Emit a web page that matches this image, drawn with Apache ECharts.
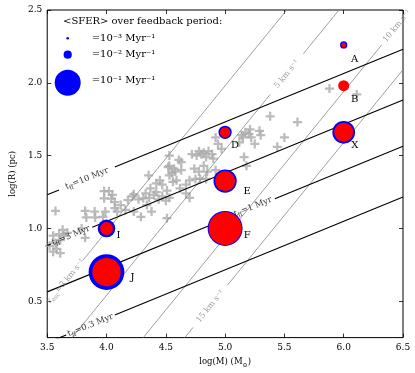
<!DOCTYPE html>
<html>
<head>
<meta charset="utf-8">
<script src="https://cdn.jsdelivr.net/npm/echarts@6/dist/echarts.min.js"></script>
<style>
html, body { margin: 0; padding: 0; background: #fff; }
#main { width: 415px; height: 373px; }
</style>
</head>
<body>
<div id="main"></div>
<script>
// clusters (log M, log R) and SFER values
var clusterNames = ['A', 'B', 'X', 'D', 'E', 'F', 'I', 'J']
var clusterLogM = [6.0, 6.0, 6.0, 5.0, 5.0, 5.0, 4.0, 4.0]
var clusterLogR = [2.26, 1.98, 1.66, 1.66, 1.325, 1.0, 1.0, 0.70]
// blue: <SFER> over feedback period, red: inner marker
var sferFeedback = [0.0079, 0.012, 0.076, 0.026, 0.080, 0.181, 0.046, 0.189]
var sferInner = [0.0033, 0.018, 0.053, 0.0157, 0.059, 0.161, 0.024, 0.119]
var legendSfer = [0.001, 0.01, 0.1]
var legendTexts = ['=10⁻³ Myr⁻¹', '=10⁻² Myr⁻¹', '=10⁻¹ Myr⁻¹']

// grey crosses
var cloudPoints = [
  [3.52, 0.88], [3.55, 0.84], [3.58, 0.86], [3.61, 0.83], [3.57, 0.90], [3.61, 0.92], [3.64, 0.95],
  [3.60, 0.96], [3.63, 0.99], [3.55, 0.95], [3.67, 0.97], [3.57, 1.12], [3.79, 1.00], [3.82, 0.935],
  [3.82, 1.12], [3.83, 1.075], [3.90, 1.116], [3.905, 1.075], [3.99, 1.116], [3.97, 1.08], [3.98, 1.256],
  [4.02, 1.256], [3.98, 1.207], [4.05, 1.23], [4.04, 1.205], [4.09, 1.116], [4.16, 1.127], [4.07, 1.18],
  [4.07, 1.14], [4.12, 1.16], [4.18, 1.195], [4.22, 1.22], [4.23, 1.235], [4.23, 1.116], [4.29, 1.08],
  [4.31, 1.207], [4.34, 1.16], [4.38, 1.116], [4.27, 1.20], [4.33, 1.24], [4.36, 1.21], [4.40, 1.23],
  [4.37, 1.275], [4.355, 1.365], [4.42, 1.25], [4.42, 1.31], [4.45, 1.33], [4.47, 1.30], [4.51, 1.26],
  [4.53, 1.21], [4.51, 1.07], [4.47, 1.22], [4.50, 1.19], [4.44, 1.20], [4.56, 1.32], [4.59, 1.33],
  [4.62, 1.275], [4.67, 1.24], [4.70, 1.21], [4.67, 1.30], [4.70, 1.33], [4.75, 1.34], [4.79, 1.34],
  [4.84, 1.34], [4.53, 1.365], [4.55, 1.38], [4.58, 1.39], [4.63, 1.40], [4.57, 1.41], [4.53, 1.43],
  [4.52, 1.42], [4.63, 1.456], [4.61, 1.47], [4.53, 1.50], [4.74, 1.41], [4.78, 1.39], [4.82, 1.43],
  [4.85, 1.39], [4.92, 1.40], [4.72, 1.51], [4.76, 1.50], [4.78, 1.53], [4.80, 1.51], [4.82, 1.52],
  [4.84, 1.49], [4.86, 1.53], [4.89, 1.51], [4.90, 1.48], [4.97, 1.546], [4.92, 1.625], [4.94, 1.58],
  [5.14, 1.64], [5.17, 1.66], [5.20, 1.65], [5.16, 1.49], [5.18, 1.43], [5.25, 1.58], [5.21, 1.68],
  [5.29, 1.67], [5.30, 1.64], [5.15, 1.625], [5.12, 1.59], [5.22, 1.625], [5.44, 1.56], [5.50, 1.625],
  [5.38, 1.77], [5.61, 1.73], [5.88, 1.96], [6.11, 1.92]
]

// free-fall time lines (black), segments broken where the label sits
var tffSegments = [
  [[3.5, 1.231], [3.6, 1.264]], [[4.07, 1.421], [6.5, 2.231]],
  [[3.5, 0.882], [3.53, 0.892]], [[3.88, 1.008], [6.5, 1.882]],
  [[3.5, 0.564], [5.06, 1.084]], [[5.42, 1.204], [6.5, 1.564]],
  [[3.5, 0.215], [3.66, 0.268]], [[4.07, 0.405], [6.5, 1.215]]
]
var tffLabelPos = [[3.835, 1.342], [3.70, 0.95], [5.235, 1.148], [3.865, 0.335]]
var tffLabelText = ['=10 Myr', '=3 Myr', '=1 Myr', '=0.3 Myr']

// velocity lines (grey)
var velSegments = [
  [[3.80, 0.78], [5.52, 2.50]],
  [[3.71, 0.25], [5.38, 1.92]], [[5.66, 2.20], [5.96, 2.50]],
  [[4.31, 0.25], [6.32, 2.26]],
  [[4.66, 0.25], [4.73, 0.32]], [[5.02, 0.61], [6.5, 2.09]]
]
var velLabelPos = [[3.655, 0.635], [5.52, 2.06], [6.45, 2.39], [4.875, 0.465]]
var velLabelText = ['{t|v}{s|esc}{t|=3 km s⁻¹}', '{t|5 km s⁻¹}', '{t|10 km s⁻¹}', '{t|15 km s⁻¹}']

var FONT = 'DejaVu Serif'

function sferToDiameter(s) {
  return 82.2 * Math.sqrt(s)
}

var chart = echarts.init(document.getElementById('main'))

var series = []
tffSegments.forEach(function (seg) {
  series.push({
    type: 'line', data: seg, symbol: 'none', silent: true, z: 3,
    lineStyle: { color: '#000', width: 1.1 }
  })
})
velSegments.forEach(function (seg) {
  series.push({
    type: 'line', data: seg, symbol: 'none', silent: true, z: 2,
    lineStyle: { color: '#888', width: 0.8 }
  })
})

series.push({
  type: 'scatter',
  data: cloudPoints,
  symbol: 'path://M3,0h2v3h3v2h-3v3h-2v-3h-3v-2h3z',
  symbolSize: 9,
  itemStyle: { color: '#aaaaaa' },
  z: 1,
  silent: true
})

series.push({
  type: 'scatter',
  symbolSize: 0,
  silent: true,
  z: 5,
  data: tffLabelPos.map(function (p, i) {
    return { value: p, label: { formatter: '{t|t}{s|ff}{t|' + tffLabelText[i] + '}' } }
  }),
  label: {
    show: true, position: 'inside', rotate: 22, color: '#000',
    rich: {
      t: { fontFamily: FONT, fontSize: 8.5, lineHeight: 11, color: '#000' },
      s: { fontFamily: FONT, fontSize: 6, lineHeight: 11, verticalAlign: 'bottom', padding: [4, 0, 0, 0], color: '#000' }
    }
  }
})

series.push({
  type: 'scatter',
  symbolSize: 0,
  silent: true,
  z: 5,
  data: velLabelPos.map(function (p, i) {
    return { value: p, label: { formatter: velLabelText[i] } }
  }),
  label: {
    show: true, position: 'inside', rotate: 50.5, color: '#808080',
    rich: {
      t: { fontFamily: FONT, fontSize: 8, lineHeight: 11, color: '#808080' },
      s: { fontFamily: FONT, fontSize: 6, lineHeight: 11, verticalAlign: 'bottom', padding: [4, 0, 0, 0], color: '#808080' }
    }
  }
})

// label offsets (px) for the cluster letters
var letterOffsets = [[11, 14], [11, 14], [11, 13], [10, 13], [22, 10], [22, 7], [12, 7], [26, 5]]

series.push({
  type: 'scatter',
  z: 6,
  silent: true,
  data: clusterNames.map(function (n, i) {
    return { name: n, value: [clusterLogM[i], clusterLogR[i], sferFeedback[i]] }
  }),
  symbolSize: function (v) { return sferToDiameter(v[2]) },
  itemStyle: { color: '#0000ff', opacity: 1 }
})
series.push({
  type: 'scatter',
  z: 7,
  silent: true,
  data: clusterNames.map(function (n, i) {
    return {
      name: n,
      value: [clusterLogM[i], clusterLogR[i], sferInner[i]],
      label: { offset: letterOffsets[i] }
    }
  }),
  symbolSize: function (v) { return sferToDiameter(v[2]) },
  itemStyle: { color: '#ff0000', opacity: 1 },
  label: {
    show: true, position: 'inside', formatter: '{b}',
    color: '#000', fontFamily: FONT, fontSize: 10
  }
})

// legend drawn as graphic
var graphic = [{
  type: 'text', x: 63, y: 21,
  style: { text: '<SFER> over feedback period:', fontFamily: FONT, fontSize: 10, fill: '#000', verticalAlign: 'middle' }
}]
var legendY = [38.3, 54.7, 82.7]
var legendTextY = [38.3, 54, 80.7]
legendSfer.forEach(function (s, i) {
  graphic.push({
    type: 'circle',
    shape: { cx: 67.7, cy: legendY[i], r: sferToDiameter(s) / 2 },
    style: { fill: '#0000ff' }
  })
  graphic.push({
    type: 'text', x: 91.7, y: legendTextY[i],
    style: { text: legendTexts[i], fontFamily: FONT, fontSize: 10, fill: '#000', verticalAlign: 'middle' }
  })
})

var tickVals = [0.5, 1.0, 1.5, 2.0, 2.5]
var axisTick = { inside: true, length: 4, lineStyle: { color: '#000', width: 0.8 } }

var option = {
  animation: false,
  backgroundColor: '#fff',
  grid: {
    left: 38, right: 12, top: 10, bottom: 33,
    show: true, borderColor: '#000', borderWidth: 1, backgroundColor: 'transparent'
  },
  xAxis: [{
    type: 'value', min: 3.5, max: 6.5, interval: 0.5, position: 'bottom',
    axisLine: { show: false },
    axisTick: axisTick,
    splitLine: { show: false },
    axisLabel: {
      color: '#000', fontFamily: FONT, fontSize: 9, margin: 6,
      formatter: function (v) { return v.toFixed(1) }
    },
    name: '{a|log(M) (M}{s|⊙}{a|)}',
    nameLocation: 'middle',
    nameGap: 15,
    nameTextStyle: {
      rich: {
        a: { fontFamily: FONT, fontSize: 8.5, color: '#000', lineHeight: 12 },
        s: { fontFamily: FONT, fontSize: 6, color: '#000', lineHeight: 12, verticalAlign: 'bottom', padding: [4, 0, 0, 0] }
      }
    }
  }, {
    type: 'value', min: 3.5, max: 6.5, interval: 0.5, position: 'top',
    axisLine: { show: false }, axisTick: axisTick,
    axisLabel: { show: false }, splitLine: { show: false }
  }],
  yAxis: [{
    type: 'value', min: 0.25, max: 2.5, position: 'left',
    axisLine: { show: false },
    axisTick: Object.assign({ customValues: tickVals }, axisTick),
    splitLine: { show: false },
    axisLabel: {
      customValues: tickVals,
      color: '#000', fontFamily: FONT, fontSize: 9, margin: 5,
      formatter: function (v) { return v.toFixed(1) }
    },
    name: 'log(R) (pc)',
    nameLocation: 'middle',
    nameGap: 24,
    nameTextStyle: { fontFamily: FONT, fontSize: 8.5, color: '#000' }
  }, {
    type: 'value', min: 0.25, max: 2.5, position: 'right',
    axisLine: { show: false },
    axisTick: Object.assign({ customValues: tickVals }, axisTick),
    axisLabel: { show: false }, splitLine: { show: false }
  }],
  graphic: graphic,
  series: series
}

chart.setOption(option)
</script>
</body>
</html>
